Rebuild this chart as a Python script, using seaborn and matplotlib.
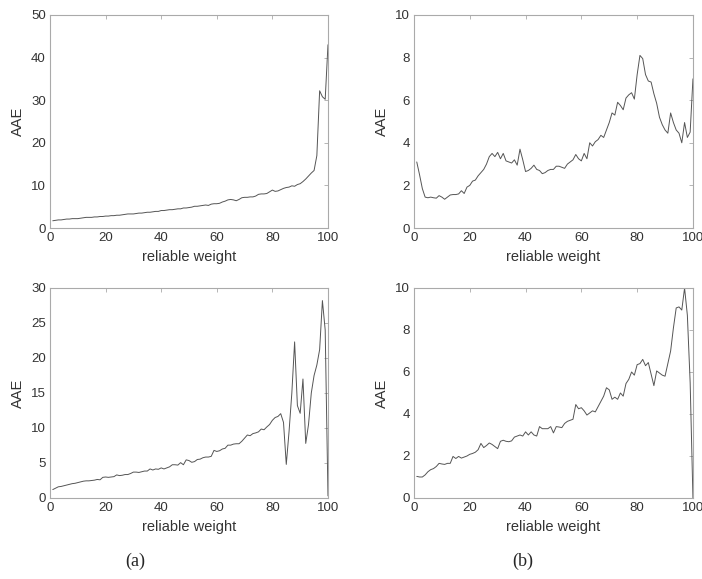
import numpy as np
import pandas as pd
import matplotlib
matplotlib.use("Agg")
import matplotlib.pyplot as plt
import seaborn as sns

# --- data: AAE vs reliable weight (1..100) ---
weight = list(range(1, 101))

aae_a_top = [1.7, 1.8, 1.9, 1.9, 2.0, 2.1, 2.1, 2.2, 2.2, 2.2,
             2.3, 2.4, 2.5, 2.5, 2.5, 2.6, 2.6, 2.7, 2.7, 2.8,
             2.8, 2.9, 2.9, 3.0, 3.0, 3.1, 3.2, 3.3, 3.3, 3.3,
             3.4, 3.5, 3.5, 3.6, 3.7, 3.7, 3.8, 3.9, 3.9, 4.1,
             4.1, 4.2, 4.3, 4.3, 4.4, 4.5, 4.5, 4.7, 4.7, 4.8,
             4.9, 5.1, 5.1, 5.2, 5.3, 5.4, 5.3, 5.6, 5.7, 5.7,
             5.8, 6.1, 6.3, 6.6, 6.7, 6.6, 6.4, 6.7, 7.1, 7.2,
             7.2, 7.3, 7.3, 7.5, 7.9, 8.0, 8.0, 8.1, 8.5, 8.9,
             8.6, 8.7, 9.0, 9.3, 9.5, 9.6, 9.9, 9.8, 10.2, 10.4,
             10.9, 11.5, 12.2, 12.9, 13.5, 17.0, 32.2, 30.8, 30.2, 43.0]

aae_b_top = [3.1, 2.5, 1.85, 1.45, 1.42, 1.45, 1.42, 1.40, 1.52, 1.45,
             1.35, 1.45, 1.55, 1.57, 1.57, 1.60, 1.75, 1.62, 1.92, 2.0,
             2.2, 2.25, 2.45, 2.6, 2.75, 3.0, 3.35, 3.5, 3.35, 3.55,
             3.25, 3.5, 3.15, 3.1, 3.05, 3.2, 2.95, 3.7, 3.2, 2.65,
             2.7, 2.8, 2.95, 2.75, 2.7, 2.55, 2.6, 2.7, 2.75, 2.75,
             2.9, 2.9, 2.85, 2.8, 3.0, 3.1, 3.2, 3.45, 3.25, 3.15,
             3.5, 3.25, 4.0, 3.85, 4.05, 4.15, 4.35, 4.25, 4.6, 4.95,
             5.4, 5.3, 5.9, 5.75, 5.55, 6.1, 6.25, 6.35, 6.05, 7.2,
             8.1, 7.95, 7.2, 6.9, 6.85, 6.3, 5.85, 5.2, 4.85, 4.6,
             4.45, 5.4, 4.95, 4.6, 4.45, 4.0, 4.95, 4.25, 4.5, 7.0]

aae_a_bottom = [1.2, 1.4, 1.6, 1.65, 1.75, 1.85, 1.95, 2.05, 2.1, 2.2,
                2.3, 2.4, 2.45, 2.45, 2.5, 2.55, 2.65, 2.6, 2.95, 3.0,
                2.95, 3.0, 3.05, 3.3, 3.2, 3.25, 3.35, 3.35, 3.5, 3.7,
                3.7, 3.65, 3.75, 3.85, 3.85, 4.15, 4.0, 4.15, 4.1, 4.3,
                4.15, 4.3, 4.45, 4.75, 4.75, 4.7, 5.05, 4.75, 5.45, 5.35,
                5.1, 5.2, 5.5, 5.55, 5.75, 5.85, 5.85, 5.95, 6.8, 6.65,
                6.75, 7.0, 7.1, 7.55, 7.55, 7.7, 7.75, 7.75, 8.1, 8.55,
                9.0, 8.9, 9.2, 9.3, 9.45, 9.85, 9.75, 10.15, 10.5, 11.1,
                11.5, 11.65, 12.05, 10.8, 4.8, 9.5, 15.0, 22.3, 13.2, 12.1,
                17.0, 7.8, 10.5, 15.0, 17.5, 19.0, 21.2, 28.2, 24.0, 0.3]

aae_b_bottom = [1.03, 1.0, 1.0, 1.1, 1.25, 1.35, 1.4, 1.5, 1.65, 1.62,
                1.6, 1.65, 1.65, 1.98, 1.88, 1.98, 1.9, 1.95, 2.0, 2.08,
                2.12, 2.18, 2.3, 2.6, 2.4, 2.5, 2.62, 2.55, 2.45, 2.35,
                2.7, 2.75, 2.7, 2.68, 2.72, 2.9, 2.95, 3.0, 2.95, 3.15,
                3.0, 3.15, 3.0, 2.95, 3.4, 3.3, 3.3, 3.3, 3.4, 3.1,
                3.4, 3.38, 3.35, 3.55, 3.65, 3.7, 3.75, 4.45, 4.25, 4.3,
                4.15, 3.95, 4.05, 4.15, 4.1, 4.35, 4.6, 4.85, 5.25, 5.15,
                4.7, 4.8, 4.7, 5.0, 4.85, 5.45, 5.65, 6.0, 5.85, 6.35,
                6.4, 6.6, 6.3, 6.45, 5.9, 5.35, 6.05, 5.95, 5.85, 5.8,
                6.4, 7.0, 8.1, 9.05, 9.1, 8.95, 10.0, 8.7, 5.5, 0.0]

panels = [
    (aae_a_top, 50, 10, [0.0712, 0.6062, 0.396, 0.368]),
    (aae_b_top, 10, 2, [0.5897, 0.6062, 0.3974, 0.368]),
    (aae_a_bottom, 30, 5, [0.0712, 0.1399, 0.396, 0.3627]),
    (aae_b_bottom, 10, 2, [0.5897, 0.1399, 0.3974, 0.3627]),
]

sns.set_style("white")
plt.rcParams['font.family'] = ['Liberation Sans', 'DejaVu Sans']

fig = plt.figure(figsize=(7.02, 5.79), dpi=100)

for vals, ymax, ystep, rect in panels:
    ax = fig.add_axes(rect)
    df = pd.DataFrame({'reliable weight': weight, 'AAE': vals})
    sns.lineplot(data=df, x='reliable weight', y='AAE', ax=ax,
                 color='#555555', linewidth=0.7)
    ax.set_xlim(0, 100)
    ax.set_ylim(0, ymax)
    ax.set_xticks(np.arange(0, 101, 20))
    ax.set_yticks(np.arange(0, ymax + 0.01, ystep))
    ax.tick_params(direction='in', length=3, width=0.6, colors='#aaaaaa',
                   labelcolor='#333333', labelsize=9.5,
                   top=True, right=True, pad=3)
    for s in ax.spines.values():
        s.set_color('#aaaaaa')
        s.set_linewidth(0.8)
    ax.set_xlabel('reliable weight', fontsize=10.5, color='#333333', labelpad=4)
    ax.set_ylabel('AAE', fontsize=10.5, color='#333333', labelpad=4)

fig.text(0.192, 0.03, '(a)', family=['Liberation Serif', 'DejaVu Serif'],
         fontsize=13, ha='center', va='center')
fig.text(0.744, 0.03, '(b)', family=['Liberation Serif', 'DejaVu Serif'],
         fontsize=13, ha='center', va='center')

fig.savefig('out.png', dpi=100)
